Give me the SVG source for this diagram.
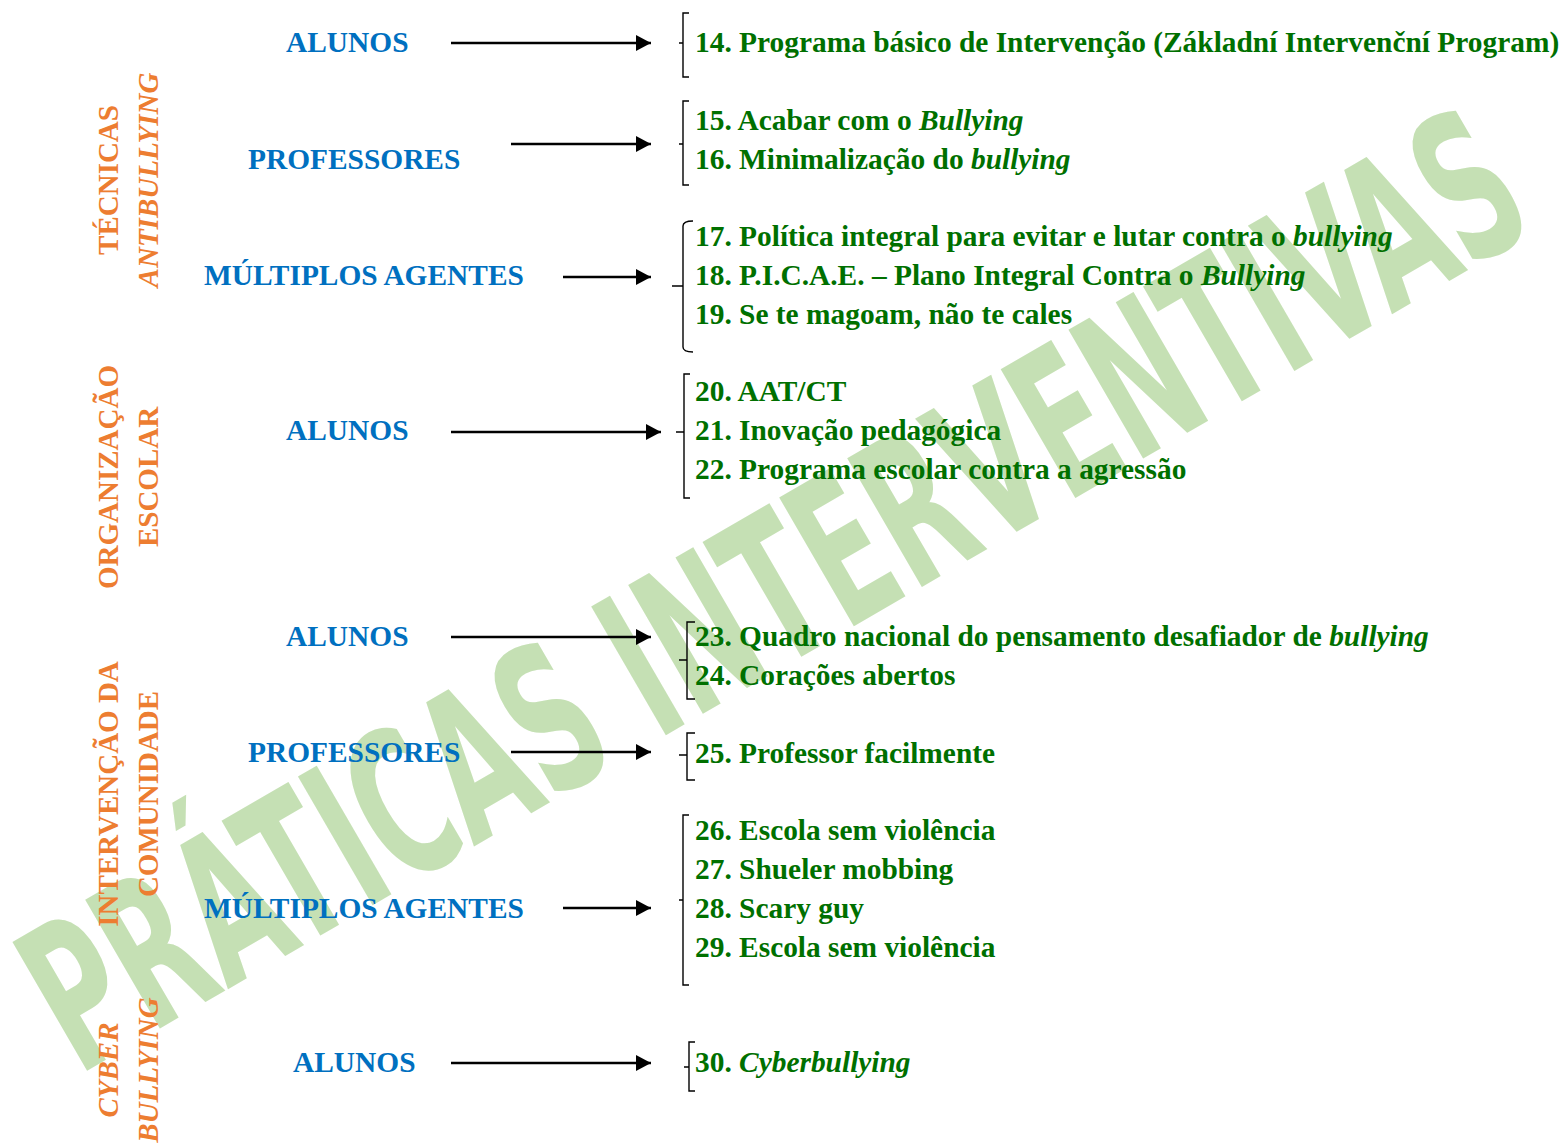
<svg xmlns="http://www.w3.org/2000/svg" width="1565" height="1145" viewBox="0 0 1565 1145">
<defs>
<marker id="ah" markerUnits="userSpaceOnUse" markerWidth="16" markerHeight="16" refX="15" refY="8" orient="auto">
<path d="M0,0 L15,8 L0,16 z" fill="#000"/>
</marker>
<style>
.wm{font-family:"DejaVu Sans Condensed","DejaVu Sans",sans-serif;font-stretch:condensed;font-weight:bold;font-size:204px;fill:#C5E0B4}
.cat{font-family:"Liberation Serif","Times New Roman",serif;font-weight:bold;font-size:29px;fill:#ED7D31}
.who{font-family:"Liberation Serif","Times New Roman",serif;font-weight:bold;font-size:29.4px;fill:#0070C0}
.it{font-family:"Liberation Serif","Times New Roman",serif;font-weight:bold;font-size:29.4px;fill:#007000}
.i{font-style:italic}
.arr{stroke:#000;stroke-width:2.5;fill:none;marker-end:url(#ah)}
.br{stroke:#000;stroke-width:1.4;fill:none}
</style>
</defs>
<rect width="1565" height="1145" fill="#fff"/>
<g id="watermark">
<text class="wm" transform="translate(78,1076) rotate(-30.1)" x="0" y="0" textLength="1690" lengthAdjust="spacingAndGlyphs">PRÁTICAS INTERVENTIVAS</text>
</g>
<g id="categories">
<g id="cat-tecnicas">
<text class="cat" transform="translate(118,180) rotate(-90)" text-anchor="middle">TÉCNICAS</text>
<text class="cat i" transform="translate(158,180) rotate(-90)" text-anchor="middle">ANTIBULLYING</text>
</g>
<g id="cat-organizacao">
<text class="cat" transform="translate(118,477) rotate(-90)" text-anchor="middle">ORGANIZAÇÃO</text>
<text class="cat" transform="translate(158,477) rotate(-90)" text-anchor="middle">ESCOLAR</text>
</g>
<g id="cat-comunidade">
<text class="cat" transform="translate(118,794) rotate(-90)" text-anchor="middle">INTERVENÇÃO DA</text>
<text class="cat" transform="translate(158,794) rotate(-90)" text-anchor="middle">COMUNIDADE</text>
</g>
<g id="cat-cyber">
<text class="cat i" transform="translate(118,1070) rotate(-90)" text-anchor="middle">CYBER</text>
<text class="cat i" transform="translate(158,1070) rotate(-90)" text-anchor="middle">BULLYING</text>
</g>
</g>
<g id="agents">
<g id="a1"><text class="who" x="286" y="52">ALUNOS</text></g>
<g id="a2"><text class="who" x="248" y="169">PROFESSORES</text></g>
<g id="a3"><text class="who" x="204" y="285">MÚLTIPLOS AGENTES</text></g>
<g id="a4"><text class="who" x="286" y="440">ALUNOS</text></g>
<g id="a5"><text class="who" x="286" y="646">ALUNOS</text></g>
<g id="a6"><text class="who" x="248" y="762">PROFESSORES</text></g>
<g id="a7"><text class="who" x="204" y="918">MÚLTIPLOS AGENTES</text></g>
<g id="a8"><text class="who" x="293" y="1072">ALUNOS</text></g>
</g>
<g id="connectors">
<line class="arr" x1="451" y1="43" x2="651" y2="43"/>
<line class="arr" x1="511" y1="144" x2="651" y2="144"/>
<line class="arr" x1="563" y1="277" x2="651" y2="277"/>
<line class="arr" x1="451" y1="432" x2="661" y2="432"/>
<line class="arr" x1="451" y1="637" x2="651" y2="637"/>
<line class="arr" x1="511" y1="752" x2="651" y2="752"/>
<line class="arr" x1="563" y1="908" x2="651" y2="908"/>
<line class="arr" x1="451" y1="1063" x2="651" y2="1063"/>
</g>
<g id="brackets">
<path class="br" d="M689,13 H683 V77 H689 M679,43 H683"/>
<path class="br" d="M689,101 H683 V185 H689 M679,144 H683"/>
<path class="br" d="M693,221 Q683,221 683,226 V347 Q683,352 693,352 M672,286 H683"/>
<path class="br" d="M690,374 H684 V498 H690 M676,432 H684"/>
<path class="br" d="M695,622 H687 V699 H695 M679,660 H687"/>
<path class="br" d="M695,733 H687 V780 H695 M679,755 H687"/>
<path class="br" d="M689,815 H683 V985 H689 M679,900 H683"/>
<path class="br" d="M695,1042 H689 V1091 H695 M684,1067 H689"/>
</g>
<g id="programs">
<g id="p1"><text class="it" x="695" y="52">14. Programa básico de Intervenção (Základní Intervenční Program)</text></g>
<g id="p2">
<text class="it" x="695" y="130">15. Acabar com o <tspan class="i">Bullying</tspan></text>
<text class="it" x="695" y="169">16. Minimalização do <tspan class="i">bullying</tspan></text>
</g>
<g id="p3">
<text class="it" x="695" y="246">17. Política integral para evitar e lutar contra o <tspan class="i">bullying</tspan></text>
<text class="it" x="695" y="285">18. P.I.C.A.E. – Plano Integral Contra o <tspan class="i">Bullying</tspan></text>
<text class="it" x="695" y="324">19. Se te magoam, não te cales</text>
</g>
<g id="p4">
<text class="it" x="695" y="401">20. AAT/CT</text>
<text class="it" x="695" y="440">21. Inovação pedagógica</text>
<text class="it" x="695" y="479">22. Programa escolar contra a agressão</text>
</g>
<g id="p5">
<text class="it" x="695" y="646">23. Quadro nacional do pensamento desafiador de <tspan class="i">bullying</tspan></text>
<text class="it" x="695" y="685">24. Corações abertos</text>
</g>
<g id="p6"><text class="it" x="695" y="763">25. Professor facilmente</text></g>
<g id="p7">
<text class="it" x="695" y="840">26. Escola sem violência</text>
<text class="it" x="695" y="879">27. Shueler mobbing</text>
<text class="it" x="695" y="918">28. Scary guy</text>
<text class="it" x="695" y="957">29. Escola sem violência</text>
</g>
<g id="p8"><text class="it" x="695" y="1072">30. <tspan class="i">Cyberbullying</tspan></text></g>
</g>
</svg>
